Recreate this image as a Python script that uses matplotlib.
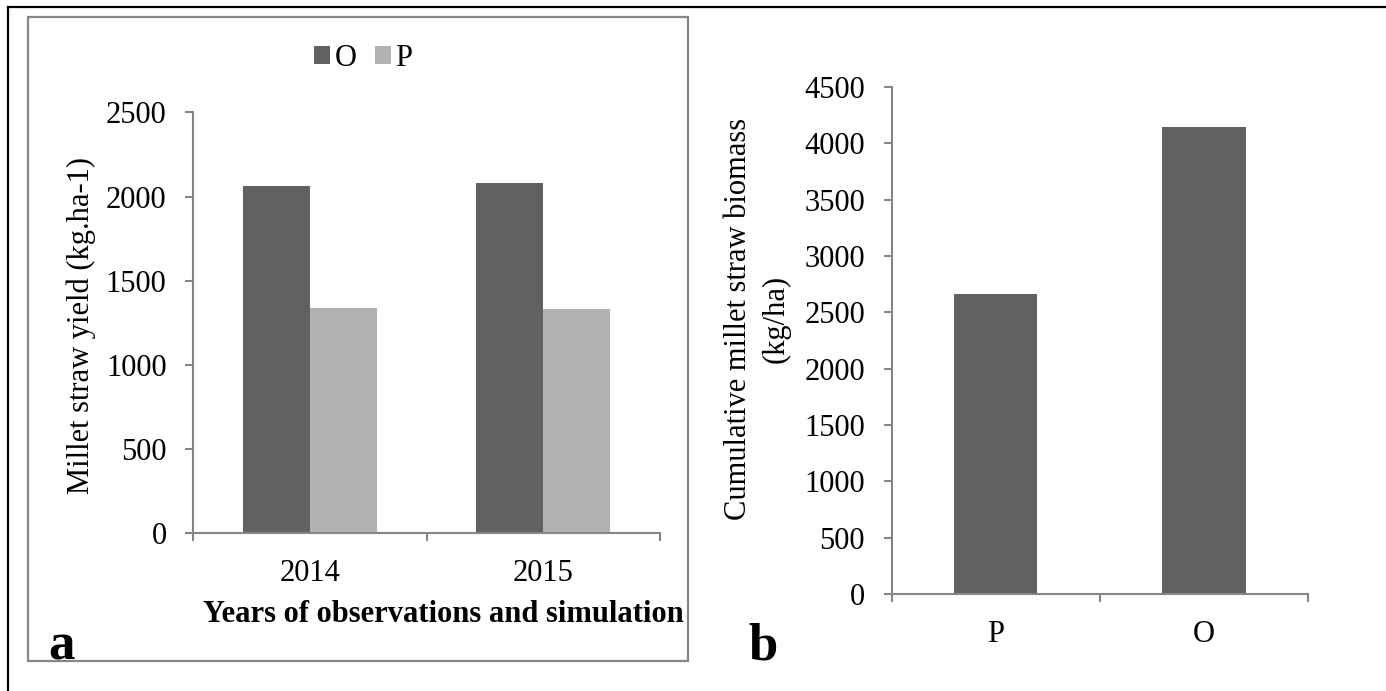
import numpy as np
import matplotlib.pyplot as plt
from matplotlib.lines import Line2D
from matplotlib.patches import Rectangle

plt.rcParams['font.family'] = ['Liberation Serif', 'DejaVu Serif']

# panel a: yearly straw yield
years = ['2014', '2015']
observed = [2060, 2080]
simulated = [1340, 1330]

# panel b: cumulative straw biomass
treatments = ['P', 'O']
cumulative = [2665, 4140]

dark = '#616161'
light = '#b1b1b1'
axis_grey = '#868686'
W, H = 1386, 691

fig = plt.figure(figsize=(W / 100, H / 100), dpi=100)


def fx(px):
    return px / W


def fy(py):
    return 1 - py / H


def style_axis(ax, ymax):
    for s in ['top', 'right']:
        ax.spines[s].set_visible(False)
    for s in ['left', 'bottom']:
        ax.spines[s].set_color(axis_grey)
        ax.spines[s].set_linewidth(1.5)
    ax.set_ylim(0, ymax)
    ax.set_yticks(np.arange(0, ymax + 1, 500))
    ax.set_xlim(-0.5, 1.5)
    ax.set_xticks([0, 1])
    ax.set_xticks([-0.5, 0.5, 1.5], minor=True)
    ax.tick_params(axis='x', which='major', length=0, pad=19, labelsize=22)
    ax.tick_params(axis='x', which='minor', length=6, width=1.5, color=axis_grey)
    ax.tick_params(axis='y', length=6, width=1.5, color=axis_grey, pad=13, labelsize=22)


# outer figure frame (left and top edges)
fig.add_artist(Line2D([fx(8), fx(8)], [0, fy(7)], color='black', lw=1.6, transform=fig.transFigure))
fig.add_artist(Line2D([fx(8), 1], [fy(7), fy(7)], color='black', lw=1.6, transform=fig.transFigure))

# grey chart-area box around panel a
fig.add_artist(Rectangle((fx(28), fy(661)), fx(688) - fx(28), fy(17) - fy(661),
                         fill=False, edgecolor=axis_grey, lw=1.6, transform=fig.transFigure))

# ---- panel a
ax1 = fig.add_axes([fx(193), fy(533), fx(660) - fx(193), fy(112.4) - fy(533)])
x = np.arange(len(years))
w = 0.286
b1 = ax1.bar(x - w / 2, observed, w, color=dark, label='O')
b2 = ax1.bar(x + w / 2, simulated, w, color=light, label='P')
style_axis(ax1, 2500)
ax1.set_xticklabels(years)

fig.legend(handles=[b1, b2], labels=['O', 'P'], loc='center', ncol=2,
           bbox_to_anchor=(fx(363), fy(58)), bbox_transform=fig.transFigure,
           frameon=False, fontsize=22, handlelength=0.52, handleheight=0.52,
           handletextpad=0.15, columnspacing=0.6, borderpad=0)

fig.text(fx(81), fy(325), 'Millet straw yield (kg.ha-1)', rotation=90,
         ha='center', va='center', fontsize=22)
xl = fig.text(fx(203), fy(622), 'Years of observations and simulation',
              ha='left', va='baseline', fontsize=22, fontweight='bold')
xl.set_clip_path(Rectangle((fx(28), fy(661)), fx(688) - fx(28), fy(17) - fy(661),
                           transform=fig.transFigure))
fig.text(fx(48), fy(659), 'a', ha='left', va='baseline', fontsize=38, fontweight='bold')

# ---- panel b
ax2 = fig.add_axes([fx(891.5), fy(594), fx(1308) - fx(891.5), fy(86.8) - fy(594)])
ax2.bar(np.arange(len(treatments)), cumulative, 0.40, color=dark)
style_axis(ax2, 4500)
ax2.set_xticklabels(treatments)

fig.text(fx(757), fy(319), 'Cumulative millet straw biomass\n(kg/ha)', rotation=90,
         ha='center', va='center', multialignment='center', fontsize=22, linespacing=1.4)
fig.text(fx(748), fy(659), 'b', ha='left', va='baseline', fontsize=38, fontweight='bold')

fig.savefig('out.png', dpi=100)
